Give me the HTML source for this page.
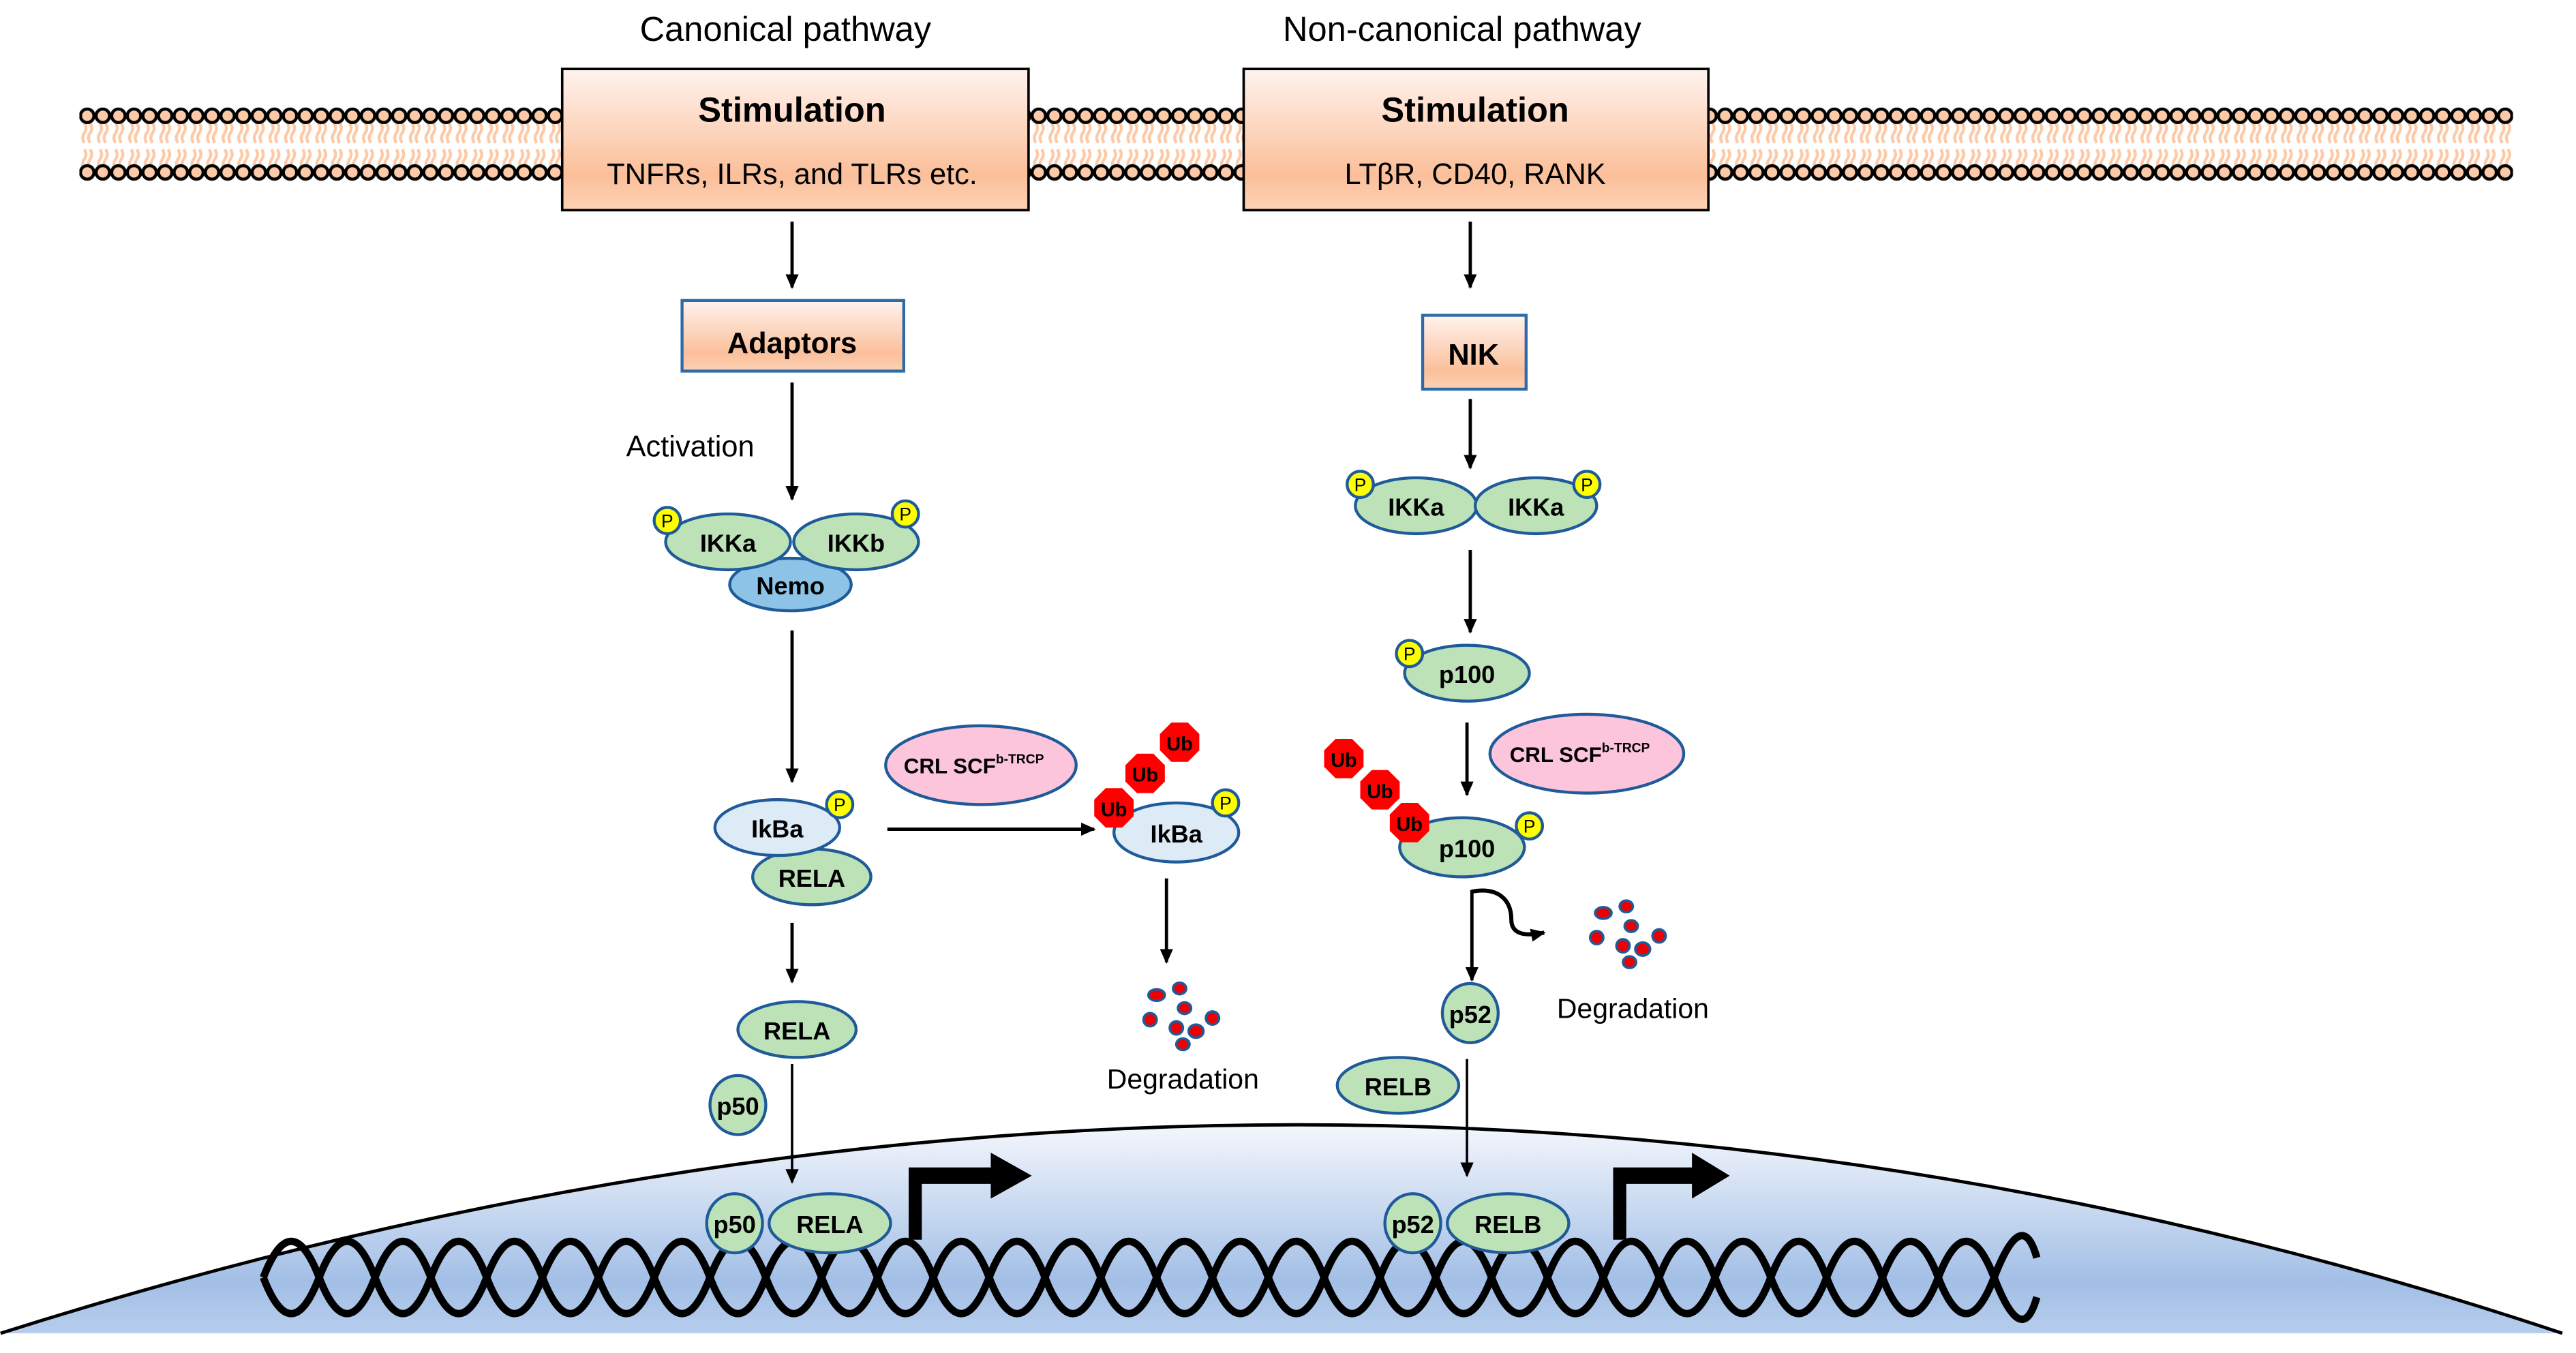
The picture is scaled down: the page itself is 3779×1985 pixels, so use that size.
<!DOCTYPE html>
<html><head><meta charset="utf-8"><style>
html,body{margin:0;padding:0;background:#fff;}
svg{display:block;}
text{font-family:"Liberation Sans",sans-serif;}
.b{font-weight:bold;}
</style></head><body>
<svg width="3779" height="1985" viewBox="0 0 1568 824" xmlns="http://www.w3.org/2000/svg">
<defs>
<pattern id="mem" x="48" y="62" width="9.5" height="50" patternUnits="userSpaceOnUse">
 <path d="M3 13 q2 3 0 6 q-2 3 0 6 M6.5 13 q2 3 0 6 q-2 3 0 6 M3 29 q2 3 0 6 q-2 3 0 6 M6.5 29 q2 3 0 6 q-2 3 0 6" stroke="#fdc9a6" stroke-width="1.8" fill="none"/>
 <circle cx="4.75" cy="8.5" r="4.1" fill="#fdc9a6" stroke="#000" stroke-width="1.9"/>
 <circle cx="4.75" cy="43" r="4.1" fill="#fdc9a6" stroke="#000" stroke-width="1.9"/>
</pattern>
<linearGradient id="box" x1="0" y1="0" x2="0" y2="1">
 <stop offset="0" stop-color="#fff3ee"/><stop offset="0.75" stop-color="#fbbf9a"/><stop offset="1" stop-color="#fcd2b6"/>
</linearGradient>
<linearGradient id="nuc" x1="0" y1="0" x2="0" y2="1">
 <stop offset="0" stop-color="#f4f7fc"/><stop offset="0.75" stop-color="#a3bfe6"/><stop offset="1" stop-color="#b6cdec"/>
</linearGradient>
<marker id="ah" markerWidth="10" markerHeight="10" refX="8" refY="5" orient="auto" markerUnits="userSpaceOnUse">
 <path d="M0 1 L9 5 L0 9 Z" fill="#000"/>
</marker>
<g id="oct"><polygon points="-5,-12 5,-12 12,-5 12,5 5,12 -5,12 -12,5 -12,-5" fill="#f00"/></g>
<g id="dots" stroke="#1f5a99" stroke-width="1.5" fill="#e00">
 <ellipse cx="-16" cy="-12" rx="5" ry="3.5"/><ellipse cx="-2" cy="-16" rx="4" ry="3.5"/>
 <ellipse cx="1" cy="-4" rx="4" ry="3.5"/><ellipse cx="-20" cy="3" rx="4" ry="4"/>
 <ellipse cx="18" cy="2" rx="4" ry="4"/><ellipse cx="-4" cy="8" rx="4" ry="4"/>
 <ellipse cx="8" cy="10" rx="4.5" ry="4"/><ellipse cx="0" cy="18" rx="4" ry="3.5"/>
</g>
</defs>

<rect x="48" y="62" width="1482" height="50" fill="url(#mem)"/>

<text x="478" y="25" font-size="21" text-anchor="middle">Canonical pathway</text>
<text x="890" y="25" font-size="21" text-anchor="middle">Non-canonical pathway</text>

<rect x="342" y="42" width="284" height="86" fill="url(#box)" stroke="#000" stroke-width="1.5"/>
<text x="482" y="74" font-size="21" class="b" text-anchor="middle">Stimulation</text>
<text x="482" y="112" font-size="18" text-anchor="middle">TNFRs, ILRs, and TLRs etc.</text>
<rect x="757" y="42" width="283" height="86" fill="url(#box)" stroke="#000" stroke-width="1.5"/>
<text x="898" y="74" font-size="21" class="b" text-anchor="middle">Stimulation</text>
<text x="898" y="112" font-size="18" text-anchor="middle">LTβR, CD40, RANK</text>

<path d="M0 812 Q800 558 1560 812 Z" fill="url(#nuc)"/>
<path d="M0 812 Q800 558 1560 812" fill="none" stroke="#000" stroke-width="2"/>

<g stroke="#000" stroke-width="2" fill="none">
 <line x1="482" y1="135" x2="482" y2="175" marker-end="url(#ah)"/>
 <line x1="482" y1="233" x2="482" y2="304" marker-end="url(#ah)"/>
 <line x1="482" y1="384" x2="482" y2="476" marker-end="url(#ah)"/>
 <line x1="540" y1="505" x2="666" y2="505" marker-end="url(#ah)"/>
 <line x1="710" y1="535" x2="710" y2="586" marker-end="url(#ah)"/>
 <line x1="482" y1="562" x2="482" y2="598" marker-end="url(#ah)"/>
 <line x1="482" y1="648" x2="482" y2="720" marker-end="url(#ah)" stroke-width="1.5"/>
 <line x1="895" y1="135" x2="895" y2="175" marker-end="url(#ah)"/>
 <line x1="895" y1="243" x2="895" y2="285" marker-end="url(#ah)"/>
 <line x1="895" y1="335" x2="895" y2="385" marker-end="url(#ah)"/>
 <line x1="893" y1="440" x2="893" y2="484" marker-end="url(#ah)"/>
 <line x1="896" y1="542" x2="896" y2="597" marker-end="url(#ah)"/>
 <path d="M896 543 C912 540 920 548 920 560 C920 570 930 570 940 568" stroke-width="2.5" marker-end="url(#ah)"/>
 <line x1="893" y1="645" x2="893" y2="716" marker-end="url(#ah)" stroke-width="1.5"/>
</g>

<rect x="415" y="183" width="135" height="43" fill="url(#box)" stroke="#2e6aa6" stroke-width="1.8"/>
<text x="482" y="215" font-size="18" class="b" text-anchor="middle">Adaptors</text>
<rect x="866" y="192" width="63" height="45" fill="url(#box)" stroke="#2e6aa6" stroke-width="1.8"/>
<text x="897" y="222" font-size="18" class="b" text-anchor="middle">NIK</text>
<text x="420" y="278" font-size="18" text-anchor="middle">Activation</text>

<g stroke="#1f5a99" stroke-width="1.8" font-size="15">
 <ellipse cx="481" cy="356" rx="37" ry="16" fill="#8dc3e6"/>
 <ellipse cx="443" cy="330" rx="38" ry="17" fill="#bde2b8"/>
 <ellipse cx="521" cy="330" rx="38" ry="17" fill="#bde2b8"/>
 <circle cx="406" cy="317" r="8" fill="#ff0"/>
 <circle cx="551" cy="313" r="8" fill="#ff0"/>
 <ellipse cx="494" cy="534" rx="36" ry="17" fill="#bde2b8"/>
 <ellipse cx="473" cy="504" rx="38" ry="17" fill="#ddebf7"/>
 <circle cx="511" cy="490" r="8" fill="#ff0"/>
 <ellipse cx="597" cy="466" rx="58" ry="24" fill="#fcc5dc"/>
 <ellipse cx="716" cy="507" rx="38" ry="18" fill="#ddebf7"/>
 <circle cx="746" cy="489" r="8" fill="#ff0"/>
 <ellipse cx="485" cy="627" rx="36" ry="17" fill="#bde2b8"/>
 <ellipse cx="449" cy="673" rx="17" ry="18" fill="#bde2b8"/>
 <ellipse cx="862" cy="308" rx="37" ry="17" fill="#bde2b8"/>
 <ellipse cx="935" cy="308" rx="37" ry="17" fill="#bde2b8"/>
 <circle cx="828" cy="295" r="8" fill="#ff0"/>
 <circle cx="966" cy="295" r="8" fill="#ff0"/>
 <ellipse cx="893" cy="410" rx="38" ry="17" fill="#bde2b8"/>
 <circle cx="858" cy="398" r="8" fill="#ff0"/>
 <ellipse cx="966" cy="459" rx="59" ry="24" fill="#fcc5dc"/>
 <ellipse cx="890" cy="516" rx="38" ry="18" fill="#bde2b8"/>
 <circle cx="931" cy="503" r="8" fill="#ff0"/>
 <ellipse cx="895" cy="617" rx="17" ry="18" fill="#bde2b8"/>
 <ellipse cx="851" cy="661" rx="37" ry="17" fill="#bde2b8"/>
</g>

<use href="#oct" x="718" y="452"/><use href="#oct" x="697" y="471"/><use href="#oct" x="678" y="492"/>
<use href="#oct" x="818" y="462"/><use href="#oct" x="840" y="481"/><use href="#oct" x="858" y="501"/>
<g font-size="12" class="b" text-anchor="middle">
 <text x="718" y="457">Ub</text><text x="697" y="476">Ub</text><text x="678" y="497">Ub</text>
 <text x="818" y="467">Ub</text><text x="840" y="486">Ub</text><text x="858" y="506">Ub</text>
</g>

<use href="#dots" x="720" y="618"/>
<use href="#dots" x="992" y="568"/>
<text x="720" y="663" font-size="17" text-anchor="middle">Degradation</text>
<text x="994" y="620" font-size="17" text-anchor="middle">Degradation</text>

<g stroke="#000" stroke-width="4.5" fill="none">
<path d="M160 778 Q177 734 194 778 T228 778 T262 778 T296 778 T330 778 T364 778 T398 778 T432 778 T466 778 T500 778 T534 778 T568 778 T602 778 T636 778 T670 778 T704 778 T738 778 T772 778 T806 778 T840 778 T874 778 T908 778 T942 778 T976 778 T1010 778 T1044 778 T1078 778 T1112 778 T1146 778 T1180 778 T1214 778 T1240 790"/>
<path d="M160 778 Q177 822 194 778 T228 778 T262 778 T296 778 T330 778 T364 778 T398 778 T432 778 T466 778 T500 778 T534 778 T568 778 T602 778 T636 778 T670 778 T704 778 T738 778 T772 778 T806 778 T840 778 T874 778 T908 778 T942 778 T976 778 T1010 778 T1044 778 T1078 778 T1112 778 T1146 778 T1180 778 T1214 778 T1240 766"/>
</g>

<path d="M553 755 L553 711 L603 711 L603 702 L628 716 L603 730 L603 721 L561 721 L561 755 Z" fill="#000"/>
<path d="M982 755 L982 711 L1030 711 L1030 702 L1053 716 L1030 730 L1030 721 L990 721 L990 755 Z" fill="#000"/>

<g stroke="#1f5a99" stroke-width="1.8">
 <ellipse cx="447" cy="745" rx="17" ry="18" fill="#bde2b8"/>
 <ellipse cx="505" cy="745" rx="37" ry="18" fill="#bde2b8"/>
 <ellipse cx="860" cy="745" rx="17" ry="18" fill="#bde2b8"/>
 <ellipse cx="918" cy="745" rx="37" ry="18" fill="#bde2b8"/>
</g>

<g class="b" text-anchor="middle" font-size="15">
 <text x="443" y="336">IKKa</text><text x="521" y="336">IKKb</text><text x="481" y="362">Nemo</text>
 <text x="473" y="510">IkBa</text><text x="494" y="540">RELA</text>
 <text x="716" y="513">IkBa</text>
 <text x="485" y="633">RELA</text><text x="449" y="679">p50</text>
 <text x="862" y="314">IKKa</text><text x="935" y="314">IKKa</text>
 <text x="893" y="416">p100</text><text x="893" y="522">p100</text>
 <text x="895" y="623">p52</text><text x="851" y="667">RELB</text>
 <text x="447" y="751">p50</text><text x="505" y="751">RELA</text>
 <text x="860" y="751">p52</text><text x="918" y="751">RELB</text>
</g>
<g class="b" font-size="13">
 <text x="550" y="471">CRL SCF<tspan font-size="8" dy="-6">b-TRCP</tspan></text>
 <text x="919" y="464">CRL SCF<tspan font-size="8" dy="-6">b-TRCP</tspan></text>
</g>
<g font-size="11" text-anchor="middle">
 <text x="406" y="321">P</text><text x="551" y="317">P</text><text x="511" y="494">P</text>
 <text x="746" y="493">P</text><text x="828" y="299">P</text><text x="966" y="299">P</text>
 <text x="858" y="402">P</text><text x="931" y="507">P</text>
</g>
</svg>
</body></html>
